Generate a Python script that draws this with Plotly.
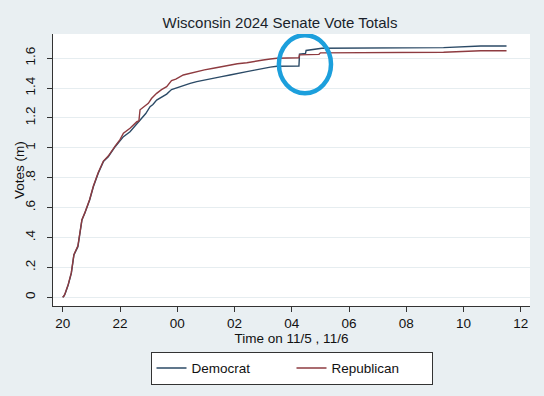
import pandas as pd
import plotly.graph_objects as go

# Hours after midnight of 11/5 (24 = 00:00 on 11/6)
dem_hours = [20.00, 20.05, 20.09, 20.19, 20.30, 20.39, 20.53, 20.59, 20.67, 20.77, 20.94,
             21.07, 21.24, 21.42, 21.59, 21.83, 22.00, 22.12, 22.35, 22.59, 22.75,
             22.90, 23.05, 23.15, 23.28, 23.45, 23.63, 23.80, 23.95, 24.21, 24.45,
             24.68, 24.95, 25.26, 25.55, 25.84, 26.10, 26.43, 26.70, 27.00, 27.25,
             27.48, 28.25, 28.27, 28.48, 28.50, 29.05, 33.30, 33.95, 34.60, 35.50]
dem_votes = [0.000, 0.010, 0.027, 0.082, 0.160, 0.283, 0.339, 0.406, 0.517, 0.562, 0.651,
             0.740, 0.830, 0.908, 0.941, 1.008, 1.050, 1.075, 1.108, 1.160, 1.198,
             1.230, 1.276, 1.290, 1.320, 1.340, 1.360, 1.390, 1.400, 1.421, 1.432,
             1.443, 1.455, 1.466, 1.477, 1.488, 1.500, 1.510, 1.520, 1.533, 1.540,
             1.546, 1.548, 1.628, 1.632, 1.652, 1.667, 1.671, 1.676, 1.682, 1.682]

rep_hours = [20.00, 20.05, 20.09, 20.19, 20.30, 20.39, 20.53, 20.59, 20.67, 20.77, 20.94,
             21.07, 21.24, 21.42, 21.59, 21.83, 22.00, 22.12, 22.35, 22.59, 22.66,
             22.70, 22.99, 23.10, 23.28, 23.45, 23.63, 23.80, 23.95, 24.21, 24.45,
             24.68, 24.95, 25.26, 25.55, 25.84, 26.10, 26.43, 26.70, 27.00, 27.25,
             27.48, 28.25, 28.27, 28.95, 29.00, 33.30, 33.95, 34.60, 35.50]
rep_votes = [0.000, 0.012, 0.030, 0.085, 0.165, 0.285, 0.345, 0.410, 0.520, 0.565, 0.655,
             0.745, 0.835, 0.912, 0.945, 1.012, 1.055, 1.098, 1.131, 1.175, 1.180,
             1.255, 1.298, 1.330, 1.365, 1.390, 1.410, 1.450, 1.460, 1.488, 1.500,
             1.510, 1.522, 1.533, 1.545, 1.555, 1.563, 1.570, 1.580, 1.588, 1.595,
             1.600, 1.603, 1.622, 1.626, 1.636, 1.640, 1.645, 1.650, 1.650]

y_tick_vals = [0, 0.2, 0.4, 0.6, 0.8, 1.0, 1.2, 1.4, 1.6]
y_tick_text = ["0", ".2", ".4", ".6", ".8", "1", "1.2", "1.4", "1.6"]

base = pd.Timestamp("2024-11-05 00:00")


def to_time(hours):
    return [base + pd.to_timedelta(h, unit="h") for h in hours]


BG = "#e9eff2"
FONT = "Liberation Sans, Arial, sans-serif"

fig = go.Figure()
fig.add_trace(go.Scatter(x=to_time(dem_hours), y=dem_votes, mode="lines",
                         name="Democrat", line=dict(color="#2b4a66", width=1.4)))
fig.add_trace(go.Scatter(x=to_time(rep_hours), y=rep_votes, mode="lines",
                         name="Republican", line=dict(color="#8e3b40", width=1.4)))

# highlight circle
cx, cy, rx, ry = 28.46, 1.56, 0.91, 0.194
fig.add_shape(type="circle", xref="x", yref="y",
              x0=base + pd.to_timedelta(cx - rx, unit="h"),
              x1=base + pd.to_timedelta(cx + rx, unit="h"),
              y0=cy - ry, y1=cy + ry,
              line=dict(color="#1c9fdc", width=4.5))

fig.add_annotation(text="Votes (m)", xref="paper", yref="paper",
                   x=(19 - 53) / 477, y=0.5, textangle=-90, showarrow=False,
                   xanchor="center", yanchor="middle", font=dict(size=13.5))

fig.update_layout(
    width=544, height=396,
    margin=dict(l=53, r=14, t=34, b=90, autoexpand=False),
    paper_bgcolor=BG, plot_bgcolor="white",
    font=dict(family=FONT, size=13, color="#111111"),
    title=dict(text="Wisconsin 2024 Senate Vote Totals", x=280 / 544, xref="container",
               xanchor="center", y=1 - 23 / 396, yref="container", yanchor="middle",
               font=dict(size=15, color="#1a1f2b")),
    showlegend=True,
    legend=dict(orientation="h", x=0.5, xanchor="center", y=-0.168, yanchor="top",
                bgcolor="white", bordercolor="#333333", borderwidth=1,
                entrywidth=95, font=dict(size=13.5)),
)
fig.update_xaxes(
    type="date", automargin=False,
    range=[base + pd.to_timedelta(19.66, unit="h"), base + pd.to_timedelta(36.32, unit="h")],
    tickformat="%H", dtick=2 * 3600 * 1000, tick0="2024-11-05 20:00",
    showgrid=False, zeroline=False,
    showline=True, linecolor="#333333", linewidth=1,
    ticks="outside", ticklen=5, tickcolor="#333333",
    title=dict(text="Time on 11/5 , 11/6", standoff=0, font=dict(size=13.5)),
    tickfont=dict(size=13.5),
)
fig.update_yaxes(
    automargin=False,
    range=[-0.058, 1.762],
    tickvals=y_tick_vals, ticktext=y_tick_text, tickangle=-90,
    showgrid=True, gridcolor="#e6edf0", gridwidth=1.2, zeroline=False,
    showline=True, linecolor="#333333", linewidth=1,
    ticks="outside", ticklen=5, tickcolor="#333333",
    ticklabelstandoff=7,
    tickfont=dict(size=13.5),
)

fig.write_html(
    "out.html",
    config={"displayModeBar": False},
    post_script="document.body.style.margin='0';document.body.style.background='%s';" % BG,
)
